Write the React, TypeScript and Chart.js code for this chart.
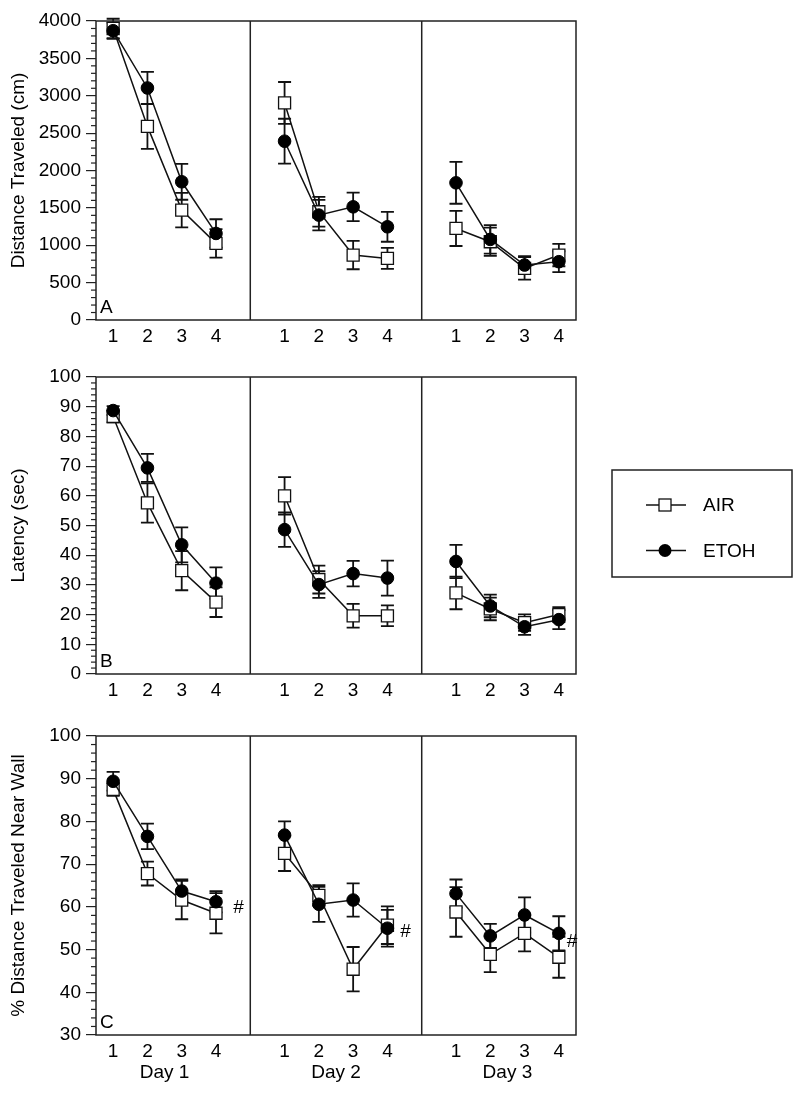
import React, { useEffect, useRef } from 'react';
import { Chart, registerables } from 'chart.js';

Chart.register(...registerables);

const FONT = '"Liberation Sans", Arial, Helvetica, sans-serif';
const FS = 19;
Chart.defaults.font.family = FONT;
Chart.defaults.font.size = FS;
Chart.defaults.color = '#000';

// ---------- data ----------
const dayLabels = ['Day 1', 'Day 2', 'Day 3'];
const dayCenters = [2.5, 7.5, 12.5];
const trialLabels = ['1', '2', '3', '4'];
const xPositions = [1, 2, 3, 4, 6, 7, 8, 9, 11, 12, 13, 14];
const dayDividers = [5, 10];

const distAirMean = [3900, 2590, 1470, 1025, 2904, 1448, 869, 824, 1225, 1047, 691, 869];
const distAirSem = [130, 300, 230, 190, 280, 200, 190, 140, 235, 190, 150, 150];
const distEtohMean = [3870, 3104, 1849, 1158, 2392, 1403, 1514, 1247, 1835, 1078, 735, 780];
const distEtohSem = [110, 215, 240, 190, 300, 205, 190, 200, 280, 190, 120, 140];

const latAirMean = [86.7, 57.6, 34.8, 24.2, 60.0, 31.8, 19.6, 19.6, 27.3, 21.9, 17.3, 20.0];
const latAirSem = [2, 6.6, 6.6, 5, 6.3, 4.7, 4, 3.5, 5.5, 3.8, 2.8, 2.5];
const latEtohMean = [88.7, 69.4, 43.5, 30.6, 48.6, 30.1, 33.8, 32.3, 37.9, 22.9, 15.9, 18.3];
const latEtohSem = [1.5, 4.7, 5.9, 5.3, 5.8, 4.5, 4.3, 5.9, 5.6, 3.8, 2.7, 3.2];

const wallAirMean = [87.5, 67.8, 61.6, 58.5, 72.5, 62.7, 45.4, 55.7, 58.8, 48.9, 53.8, 48.2];
const wallAirSem = [1.5, 2.8, 4.5, 4.7, 4.1, 2.4, 5.2, 4.4, 5.8, 4.2, 4.2, 4.8];
const wallEtohMean = [89.4, 76.5, 63.7, 61.2, 76.8, 60.6, 61.6, 55.0, 63.1, 53.2, 58.1, 53.8];
const wallEtohSem = [2.2, 3, 2.7, 2.5, 3.2, 4.1, 3.9, 4.3, 3.3, 2.8, 4.1, 4];

const hashX = [4.65, 9.52, 14.38];
const hashY = [59.8, 54.2, 51.8];

const legendLabels = ['AIR', 'ETOH'];

// ---------- helpers ----------
function buildPoints(vals: number[]) {
  const pts: { x: number; y: number | null }[] = [];
  vals.forEach((v, i) => {
    pts.push({ x: xPositions[i], y: v });
    if (i === 3 || i === 7) pts.push({ x: xPositions[i] + 1, y: null });
  });
  return pts;
}

const decoPlugin = {
  id: 'deco',
  beforeDatasetsDraw(chart: any) {
    const { ctx } = chart;
    const y = chart.scales.y;
    ctx.save();
    ctx.strokeStyle = '#111';
    ctx.lineWidth = 1.8;
    chart.data.datasets.forEach((ds: any, di: number) => {
      const meta = chart.getDatasetMeta(di);
      meta.data.forEach((el: any, i: number) => {
        const raw = ds.data[i];
        const e = ds.errors[i];
        if (raw.y == null || e == null) return;
        const px = el.x;
        const t = y.getPixelForValue(raw.y + e);
        const b = y.getPixelForValue(raw.y - e);
        ctx.beginPath();
        ctx.moveTo(px, t);
        ctx.lineTo(px, b);
        ctx.moveTo(px - 6.5, t);
        ctx.lineTo(px + 6.5, t);
        ctx.moveTo(px - 6.5, b);
        ctx.lineTo(px + 6.5, b);
        ctx.stroke();
      });
    });
    ctx.restore();
  },
  afterDraw(chart: any, _args: any, o: any) {
    const { ctx, chartArea: a } = chart;
    const x = chart.scales.x;
    const y = chart.scales.y;
    ctx.save();
    ctx.strokeStyle = '#222';
    ctx.lineWidth = 1.5;
    ctx.strokeRect(a.left, a.top, a.right - a.left, a.bottom - a.top);
    dayDividers.forEach((v) => {
      const px = x.getPixelForValue(v);
      ctx.beginPath();
      ctx.moveTo(px, a.top);
      ctx.lineTo(px, a.bottom);
      ctx.stroke();
    });
    // minor ticks
    ctx.lineWidth = 1.2;
    const n = Math.round((o.yMax - o.yMin) / o.minor);
    const per = Math.round(o.major / o.minor);
    for (let k = 0; k <= n; k++) {
      if (k % per === 0) continue;
      const py = y.getPixelForValue(o.yMin + k * o.minor);
      ctx.beginPath();
      ctx.moveTo(a.left - 5, py);
      ctx.lineTo(a.left, py);
      ctx.stroke();
    }
    // panel letter
    ctx.fillStyle = '#000';
    ctx.font = `${FS}px ${FONT}`;
    ctx.textAlign = 'left';
    ctx.textBaseline = 'alphabetic';
    ctx.fillText(o.letter, a.left + 4, a.bottom - 7);

    if (o.hashes) {
      ctx.font = `italic ${FS}px ${FONT}`;
      ctx.textAlign = 'center';
      ctx.textBaseline = 'middle';
      hashX.forEach((hx, i) => {
        ctx.fillText('#', x.getPixelForValue(hx), y.getPixelForValue(hashY[i]));
      });
    }
    if (o.days) {
      ctx.font = `${FS}px ${FONT}`;
      ctx.textAlign = 'center';
      ctx.textBaseline = 'middle';
      dayLabels.forEach((d, i) => {
        ctx.fillText(d, x.getPixelForValue(dayCenters[i]), a.bottom + 38);
      });
    }
    if (o.legend) {
      const top = o.legend.top;
      ctx.strokeStyle = '#222';
      ctx.lineWidth = 1.5;
      ctx.strokeRect(612, top, 180, 107);
      const rows = [top + 35, top + 80.5];
      ctx.font = `${FS}px ${FONT}`;
      ctx.textAlign = 'left';
      ctx.textBaseline = 'middle';
      rows.forEach((ry, i) => {
        ctx.strokeStyle = '#111';
        ctx.lineWidth = 1.5;
        ctx.beginPath();
        ctx.moveTo(646, ry);
        ctx.lineTo(686, ry);
        ctx.stroke();
        if (i === 0) {
          ctx.fillStyle = '#fff';
          ctx.fillRect(659, ry - 6, 12, 12);
          ctx.lineWidth = 1.3;
          ctx.strokeRect(659, ry - 6, 12, 12);
        } else {
          ctx.fillStyle = '#000';
          ctx.beginPath();
          ctx.arc(665, ry, 6.5, 0, Math.PI * 2);
          ctx.fill();
        }
        ctx.fillStyle = '#000';
        ctx.fillText(legendLabels[i], 703, ry + 1);
      });
    }
    ctx.restore();
  },
};

type Spec = {
  letter: string;
  title: string;
  air: number[];
  airSem: number[];
  etoh: number[];
  etohSem: number[];
  yMin: number;
  yMax: number;
  major: number;
  minor: number;
  top: number;
  height: number;
  padTop: number;
  xHeight: number;
  hashes?: boolean;
  days?: boolean;
  legend?: { top: number };
};

const panels: Spec[] = [
  {
    letter: 'A', title: 'Distance Traveled (cm)',
    air: distAirMean, airSem: distAirSem, etoh: distEtohMean, etohSem: distEtohSem,
    yMin: 0, yMax: 4000, major: 500, minor: 100,
    top: 0, height: 350, padTop: 21, xHeight: 30,
  },
  {
    letter: 'B', title: 'Latency (sec)',
    air: latAirMean, airSem: latAirSem, etoh: latEtohMean, etohSem: latEtohSem,
    yMin: 0, yMax: 100, major: 10, minor: 2,
    top: 350, height: 355, padTop: 27, xHeight: 31,
    legend: { top: 120 },
  },
  {
    letter: 'C', title: '% Distance Traveled Near Wall',
    air: wallAirMean, airSem: wallAirSem, etoh: wallEtohMean, etohSem: wallEtohSem,
    yMin: 30, yMax: 100, major: 10, minor: 2,
    top: 705, height: 394, padTop: 31, xHeight: 64,
    hashes: true, days: true,
  },
];

function makeConfig(s: Spec): any {
  return {
    type: 'line',
    data: {
      datasets: [
        {
          label: 'ETOH',
          data: buildPoints(s.etoh),
          errors: buildPoints(s.etohSem).map((p) => p.y),
          borderColor: '#111',
          borderWidth: 1.5,
          pointStyle: 'circle',
          pointRadius: 6.3,
          pointBackgroundColor: '#000',
          pointBorderColor: '#000',
          pointBorderWidth: 1,
          spanGaps: false,
          tension: 0,
          clip: false,
        },
        {
          label: 'AIR',
          data: buildPoints(s.air),
          errors: buildPoints(s.airSem).map((p) => p.y),
          borderColor: '#111',
          borderWidth: 1.5,
          pointStyle: 'rect',
          pointRadius: 8.5,
          pointBackgroundColor: '#fff',
          pointBorderColor: '#111',
          pointBorderWidth: 1.3,
          spanGaps: false,
          tension: 0,
          clip: false,
        },
      ],
    },
    options: {
      animation: false,
      responsive: false,
      devicePixelRatio: 1,
      events: [],
      layout: { padding: { left: 0, right: 224, top: s.padTop, bottom: 0 } },
      plugins: {
        legend: { display: false },
        tooltip: { enabled: false },
        deco: {
          letter: s.letter, yMin: s.yMin, yMax: s.yMax, major: s.major, minor: s.minor,
          hashes: !!s.hashes, days: !!s.days, legend: s.legend || null,
        },
      },
      scales: {
        x: {
          type: 'linear',
          min: 0.5,
          max: 14.5,
          afterBuildTicks: (sc: any) => {
            sc.ticks = xPositions.map((v) => ({ value: v }));
          },
          afterFit: (sc: any) => {
            sc.height = s.xHeight;
          },
          ticks: {
            autoSkip: false,
            maxRotation: 0,
            padding: 5,
            color: '#000',
            font: { size: FS },
            callback: (v: number) => trialLabels[Math.round(v - 1) % 5],
          },
          grid: { display: false, drawTicks: false },
          border: { display: false },
        },
        y: {
          type: 'linear',
          min: s.yMin,
          max: s.yMax,
          afterFit: (sc: any) => {
            sc.width = 96;
          },
          ticks: {
            stepSize: s.major,
            autoSkip: false,
            padding: 5,
            color: '#000',
            font: { size: FS },
            callback: (v: number) => String(Math.round(v)),
          },
          grid: { drawOnChartArea: false, tickLength: 10, color: '#222', lineWidth: 1.2 },
          border: { display: false },
          title: {
            display: true,
            text: s.title,
            color: '#000',
            font: { size: FS },
            padding: { top: 7, bottom: 0 },
          },
        },
      },
    },
    plugins: [decoPlugin],
  };
}

function Panel({ spec }: { spec: Spec }) {
  const ref = useRef<HTMLCanvasElement | null>(null);
  useEffect(() => {
    if (!ref.current) return;
    const chart = new Chart(ref.current, makeConfig(spec));
    return () => chart.destroy();
  }, [spec]);
  return (
    <canvas
      ref={ref}
      width={800}
      height={spec.height}
      style={{ position: 'absolute', left: 0, top: spec.top, width: 800, height: spec.height }}
    />
  );
}

export default function App() {
  return (
    <div style={{ position: 'absolute', left: 0, top: 0, width: 800, height: 1099, background: '#fff' }}>
      {panels.map((p) => (
        <Panel key={p.letter} spec={p} />
      ))}
    </div>
  );
}
